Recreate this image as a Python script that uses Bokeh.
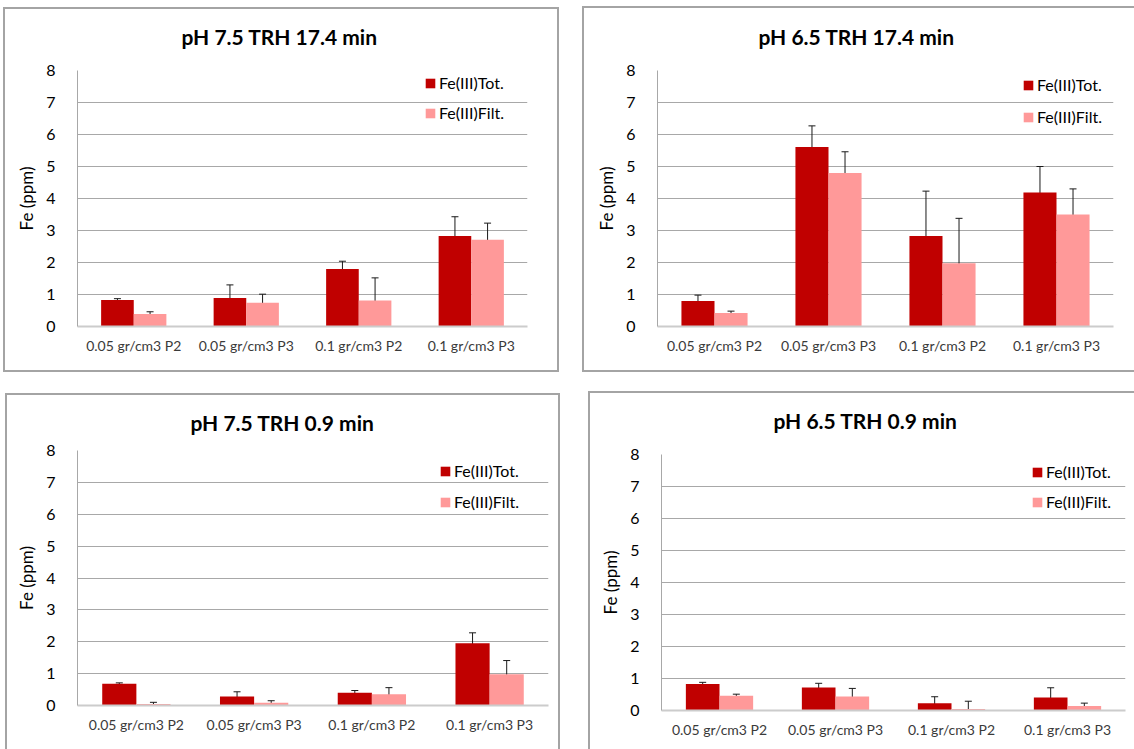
from bokeh.plotting import figure
from bokeh.models import (ColumnDataSource, Legend, LegendItem, Whisker, TeeHead,
                          Spacer, FactorRange, Title, FixedTicker, CategoricalAxis)
from bokeh.layouts import row, column
from bokeh.transform import dodge
from bokeh.embed import file_html
from bokeh.resources import INLINE

# ---------------- data ----------------
categories = ["0.05 gr/cm3 P2", "0.05 gr/cm3 P3", "0.1 gr/cm3 P2", "0.1 gr/cm3 P3"]
series_names = ["Fe(III)Tot.", "Fe(III)Filt."]
y_ticks = [0, 1, 2, 3, 4, 5, 6, 7, 8]
y_label = "Fe (ppm)"

title_a = "pH 7.5 TRH 17.4 min"
tot_a = [0.83, 0.89, 1.80, 2.83]
tot_a_err = [0.04, 0.41, 0.24, 0.60]
filt_a = [0.39, 0.74, 0.81, 2.71]
filt_a_err = [0.07, 0.27, 0.71, 0.52]

title_b = "pH 6.5 TRH 17.4 min"
tot_b = [0.80, 5.61, 2.83, 4.19]
tot_b_err = [0.18, 0.66, 1.40, 0.81]
filt_b = [0.42, 4.80, 1.98, 3.50]
filt_b_err = [0.06, 0.66, 1.40, 0.80]

title_c = "pH 7.5 TRH 0.9 min"
tot_c = [0.68, 0.28, 0.40, 1.95]
tot_c_err = [0.03, 0.15, 0.07, 0.33]
filt_c = [0.05, 0.09, 0.35, 0.98]
filt_c_err = [0.05, 0.06, 0.21, 0.43]

title_d = "pH 6.5 TRH 0.9 min"
tot_d = [0.83, 0.72, 0.23, 0.41]
tot_d_err = [0.05, 0.13, 0.20, 0.30]
filt_d = [0.46, 0.44, 0.05, 0.14]
filt_d_err = [0.05, 0.25, 0.24, 0.09]

# ---------------- style ----------------
TOT_COLOR = "#C00000"
FILT_COLOR = "#FF9999"
GRID_COLOR = "#a8a8a8"
BORDER = "#a4a4a4"
FONT = "Lato"
BAR_W = 0.29

SH_ALL = f"0 0 0 2px {BORDER}"
SH_LTB = (f"-2px 0 0 0 {BORDER}, 0 -2px 0 0 {BORDER}, 0 2px 0 0 {BORDER}, "
          f"-2px -2px 0 0 {BORDER}, -2px 2px 0 0 {BORDER}")
SH_LTR = (f"-2px 0 0 0 {BORDER}, 2px 0 0 0 {BORDER}, 0 -2px 0 0 {BORDER}, "
          f"-2px -2px 0 0 {BORDER}, 2px -2px 0 0 {BORDER}")
SH_LT = f"-2px 0 0 0 {BORDER}, 0 -2px 0 0 {BORDER}, -2px -2px 0 0 {BORDER}"


def make_panel(title, tot, tot_err, filt, filt_err, g):
    src = ColumnDataSource(dict(
        cat=categories,
        tot=tot,
        tot_hi=[v + e for v, e in zip(tot, tot_err)],
        tot_lo=[max(v - e, 0) for v, e in zip(tot, tot_err)],
        filt=filt,
        filt_hi=[v + e for v, e in zip(filt, filt_err)],
        filt_lo=[max(v - e, 0) for v, e in zip(filt, filt_err)],
    ))
    p = figure(x_range=FactorRange(*categories), y_range=(0, 8),
               width=g["w"], height=g["h"],
               min_border_left=g["l"], min_border_right=g["r"],
               min_border_top=g["t"], min_border_bottom=g["b"],
               output_backend="svg", toolbar_location=None,
               background_fill_color="white", border_fill_color="white",
               styles={"box-shadow": g["sh"]})
    p.outline_line_color = None

    # invisible top axis: only reserves the gap between the plot area and the title
    gap_axis = CategoricalAxis(axis_line_color=None, major_tick_line_color=None,
                               minor_tick_line_color=None,
                               major_tick_in=0, major_tick_out=g["gap"],
                               major_label_text_font_size="1px",
                               major_label_text_alpha=0, major_label_standoff=0)
    p.add_layout(gap_axis, "above")

    p.title = Title(text=title, align="left", offset=g["toff"], standoff=g["tst"],
                    text_font=FONT, text_font_size="21px", text_font_style="bold",
                    text_color="#000000")

    r1 = p.vbar(x=dodge("cat", -BAR_W / 2, range=p.x_range), top="tot", width=BAR_W,
                source=src, fill_color=TOT_COLOR, line_color=None)
    r2 = p.vbar(x=dodge("cat", BAR_W / 2, range=p.x_range), top="filt", width=BAR_W,
                source=src, fill_color=FILT_COLOR, line_color=None)

    for off, hi, lo in ((-BAR_W / 2, "tot_hi", "tot_lo"), (BAR_W / 2, "filt_hi", "filt_lo")):
        w = Whisker(base=dodge("cat", off, range=p.x_range), upper=hi, lower=lo, source=src,
                    line_color="#1a1a1a", line_width=1,
                    upper_head=TeeHead(size=7, line_color="#1a1a1a", line_width=1),
                    lower_head=TeeHead(size=7, line_color="#1a1a1a", line_width=1))
        p.add_layout(w)

    # axes
    p.yaxis.ticker = FixedTicker(ticks=y_ticks)
    p.yaxis.axis_label = y_label
    p.yaxis.axis_label_text_font = FONT
    p.yaxis.axis_label_text_font_size = "17px"
    p.yaxis.axis_label_text_font_style = "normal"
    p.yaxis.axis_label_text_color = "#000000"
    p.yaxis.axis_label_standoff = 6
    p.yaxis.major_label_text_font = FONT
    p.yaxis.major_label_text_font_size = "16px"
    p.yaxis.major_label_text_color = "#000000"
    p.yaxis.major_label_standoff = 16
    p.yaxis.major_tick_line_color = None
    p.yaxis.minor_tick_line_color = None
    p.yaxis.axis_line_color = GRID_COLOR
    p.yaxis.axis_line_width = 1

    bottom_axis = p.below[0]
    bottom_axis.major_label_text_font = FONT
    bottom_axis.major_label_text_font_size = "14px"
    bottom_axis.major_label_text_color = "#3a3a3a"
    bottom_axis.major_label_standoff = 4
    bottom_axis.major_tick_line_color = None
    bottom_axis.axis_line_color = "#cccccc"
    bottom_axis.axis_line_width = 2

    p.xgrid.grid_line_color = None
    p.ygrid.ticker = FixedTicker(ticks=y_ticks)
    p.ygrid.grid_line_color = GRID_COLOR
    p.ygrid.grid_line_width = 1

    legend = Legend(items=[LegendItem(label=series_names[0], renderers=[r1]),
                           LegendItem(label=series_names[1], renderers=[r2])],
                    location=g["leg"], orientation="vertical",
                    border_line_color=None, background_fill_alpha=0,
                    padding=0, margin=0, spacing=g["lsp"],
                    glyph_width=12, glyph_height=12, label_height=12,
                    label_standoff=3,
                    label_text_font=FONT, label_text_font_size="16px",
                    label_text_color="#000000")
    p.add_layout(legend)
    return p


ga = dict(w=552, h=361, l=72, r=30, t=61, b=44, toff=104, tst=20, gap=12,
          leg=(347, 204), lsp=11, sh=SH_ALL)
gb = dict(w=550, h=362, l=73, r=21, t=62, b=44, toff=101, tst=20, gap=12,
          leg=(365, 200), lsp=13, sh=SH_LTB)
gc = dict(w=551, h=354, l=70, r=10, t=55, b=44, toff=113, tst=14, gap=9,
          leg=(362, 194), lsp=12, sh=SH_LTR)
gd = dict(w=544, h=356, l=71, r=9, t=61, b=39, toff=112, tst=20, gap=12,
          leg=(370, 199), lsp=11, sh=SH_LT)

pa = make_panel(title_a, tot_a, tot_a_err, filt_a, filt_a_err, ga)
pb = make_panel(title_b, tot_b, tot_b_err, filt_b, filt_b_err, gb)
pc = make_panel(title_c, tot_c, tot_c_err, filt_c, filt_c_err, gc)
pd = make_panel(title_d, tot_d, tot_d_err, filt_d, filt_d_err, gd)

top = row(Spacer(width=5, height=370),
          column(Spacer(width=552, height=9), pa),
          Spacer(width=27, height=370),
          column(Spacer(width=550, height=8), pb))
bottom = row(Spacer(width=7, height=379),
             column(Spacer(width=551, height=25), pc),
             Spacer(width=32, height=379),
             column(Spacer(width=544, height=23), pd))
layout = column(top, bottom)

open("out.html", "w").write(file_html(layout, INLINE))
